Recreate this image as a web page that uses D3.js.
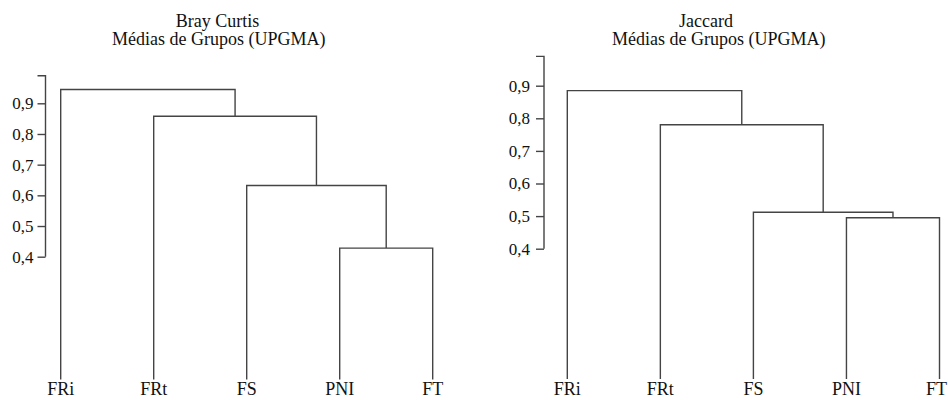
<!DOCTYPE html>
<html>
<head>
<meta charset="utf-8">
<script src="https://cdn.jsdelivr.net/npm/d3@7"></script>
<style>
  body { margin: 0; background: #fff; }
</style>
</head>
<body>
<div id="chart"></div>
<script>
// leaves, left to right
const leaves = ["FRi", "FRt", "FS", "PNI", "FT"];
// merge heights, first merge is PNI+FT, then FS joins, then FRt, then FRi
const brayHeights = [0.428, 0.632, 0.858, 0.945];
const jaccardHeights = [0.495, 0.512, 0.780, 0.885];
const tickValues = [0.4, 0.5, 0.6, 0.7, 0.8, 0.9];
const axisTop = 0.99;

const W = 948, H = 400;
const lineColor = "#444";
const textColor = "#111";
const fontFam = "Liberation Serif";

const svg = d3.select("#chart").append("svg")
  .attr("width", W)
  .attr("height", H);

// build the ladder tree from the merge order
const buildTree = heights => {
  let node = { children: [{ name: leaves[3], h: 0 }, { name: leaves[4], h: 0 }], h: heights[0] };
  node = { children: [{ name: leaves[2], h: 0 }, node], h: heights[1] };
  node = { children: [{ name: leaves[1], h: 0 }, node], h: heights[2] };
  node = { children: [{ name: leaves[0], h: 0 }, node], h: heights[3] };
  return d3.hierarchy(node);
};

const drawDendro = (opts) => {
  const g = svg.append("g");
  const x = d3.scalePoint().domain(leaves).range(opts.xRange);
  const y = d3.scaleLinear().domain([0.4, 0.9]).range(opts.yRange);

  const root = buildTree(opts.heights);
  // x of each node: leaves from scale, internal = midpoint of children
  root.eachAfter(d => {
    if (d.children) d.px = d3.mean(d.children, c => c.px);
    else d.px = x(d.data.name);
    d.py = y(d.data.h);
  });

  const elbows = root.descendants().filter(d => d.children);
  g.selectAll("path.elbow")
    .data(elbows)
    .enter()
    .append("path")
    .attr("class", "elbow")
    .attr("fill", "none")
    .attr("stroke", lineColor)
    .attr("stroke-width", 1.4)
    .attr("d", d => {
      const [a, b] = d.children;
      return "M" + a.px + "," + a.py +
        "V" + d.py + "H" + b.px + "V" + b.py;
    });

  // leaf labels, kept inside the page edge
  g.selectAll("text.leaf")
    .data(root.leaves())
    .enter()
    .append("text")
    .attr("class", "leaf")
    .attr("y", 395)
    .attr("text-anchor", "middle")
    .style("font-family", fontFam)
    .style("font-size", "18px")
    .style("fill", textColor)
    .text(d => d.data.name)
    .attr("x", function(d) {
      const half = this.getComputedTextLength() / 2;
      return Math.min(d.px, W - half - 1);
    });

  // axis, line runs from 0.4 up past the last tick
  const yAxis = d3.scaleLinear().domain([0.4, axisTop]).range([y(0.4), y(axisTop)]);
  const ax = g.append("g")
    .attr("transform", "translate(" + opts.axisX + ",0)")
    .call(d3.axisLeft(yAxis)
      .tickValues(tickValues)
      .tickSize(8)
      .tickPadding(opts.pad)
      .tickFormat(d => d3.format(".1f")(d).replace(".", ",")));
  ax.select(".domain").attr("stroke", lineColor).attr("stroke-width", 1.4)
    .attr("d", "M-8," + yAxis.range()[1] + "H0V" + yAxis.range()[0]);
  ax.selectAll(".tick line").attr("stroke", lineColor).attr("stroke-width", 1.4);
  ax.selectAll(".tick text")
    .style("font-family", fontFam)
    .style("font-size", "17px")
    .style("fill", textColor);

  // title
  g.selectAll("text.title")
    .data(opts.title)
    .enter()
    .append("text")
    .attr("class", "title")
    .attr("x", (d, i) => opts.titleX[i])
    .attr("y", (d, i) => 27 + i * 18)
    .attr("text-anchor", "middle")
    .style("font-family", fontFam)
    .style("font-size", "18px")
    .style("fill", textColor)
    .text(d => d);
};

drawDendro({
  heights: brayHeights,
  xRange: [60.7, 432.7],
  yRange: [256.7, 103.3],
  axisX: 45.5,
  pad: 4,
  title: ["Bray Curtis", "Médias de Grupos (UPGMA)"],
  titleX: [217.5, 218.7]
});

drawDendro({
  heights: jaccardHeights,
  xRange: [567.3, 939.5],
  yRange: [248.7, 85.7],
  axisX: 544,
  pad: 6,
  title: ["Jaccard", "Médias de Grupos (UPGMA)"],
  titleX: [706, 718.8]
});
</script>
</body>
</html>
